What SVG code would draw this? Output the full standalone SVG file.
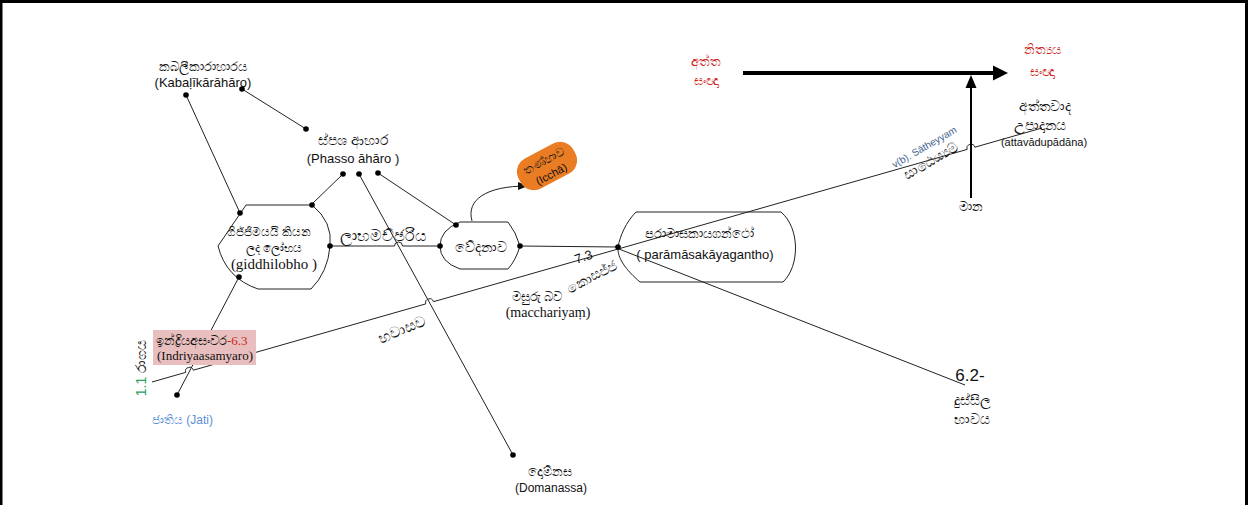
<svg xmlns="http://www.w3.org/2000/svg" width="1248" height="505" viewBox="0 0 1248 505">
<defs>
<style>
.ln{fill:none;stroke:#222;stroke-width:1}
.shape{fill:none;stroke:#222;stroke-width:1}
.dot{fill:#000}
.si{font-family:"Noto Sans","DejaVu Sans",sans-serif;fill:#111}
.sa{font-family:"Liberation Sans",Arial,sans-serif;fill:#111}
.se{font-family:"Liberation Serif","Times New Roman",serif;fill:#111}
.red{fill:#cc1f1a}
.mid{text-anchor:middle}
</style>
<marker id="ahS" markerUnits="userSpaceOnUse" markerWidth="10" markerHeight="10" viewBox="0 0 10 10" refX="9" refY="5" orient="auto">
<path d="M0 1 L10 5 L0 9 Z" fill="#111"/>
</marker>
</defs>
<rect x="0" y="0" width="1248" height="505" fill="#fff"/>
<path d="M1 505 V1.5 H1246.5 V505" fill="none" stroke="#000" stroke-width="3"/>

<g id="connectors">
<path class="ln" d="M186 95 L240 213"/>
<path class="ln" d="M242 89 L306 129"/>
<path class="ln" d="M343 174 L312 204"/>
<path class="ln" d="M359 174 L513 455"/>
<path class="ln" d="M378 173 L456 225"/>
<path class="ln" d="M330 246 H394.5 A4 4 0 0 1 402.5 246 H440"/>
<path class="ln" d="M520 246 L618 247"/>
<path class="ln" d="M152 382 L185.65 372.4 A4 4 0 0 1 193.35 370.2 L425.75 303.9 A4 4 0 0 1 433.45 301.7 L967.15 149.4 A4 4 0 0 1 974.85 147.2 L1042 128"/>
<path class="ln" d="M619 249 L965 385"/>
<path class="ln" d="M239 277 L177 395"/>
<path class="ln" d="M472 221 C466 200 486 186 527 186" marker-end="url(#ahS)"/>
<line x1="743" y1="73" x2="996" y2="73" stroke="#000" stroke-width="4"/>
<path d="M993 65.5 L1008 73 L993 80.5 Z" fill="#000"/>
<line x1="971" y1="198" x2="971" y2="86" stroke="#000" stroke-width="2"/>
<path d="M965.5 88 L971 75 L976.5 88 Z" fill="#000"/>
</g>

<g id="n-giddhi">
<path class="shape" d="M246 205 H312 Q333 222 330 246 Q328 272 311 289 H258 Q226 278 218 246 L246 205 Z"/>
<text class="si mid" x="269" y="236" font-size="11.5">ගිජ්ජිමයයි කියන</text>
<text class="si mid" x="274" y="252" font-size="12">ලද ලෝභය</text>
<text class="se mid" x="274" y="269" font-size="15">(giddhilobho )</text>
</g>

<g id="n-vedana">
<path class="shape" d="M460 222 H508 Q516 232 520 246 Q516 260 508 269 H460 Q440 262 440 246 Q440 230 460 222 Z"/>
<text class="si mid" x="481" y="252" font-size="14">වේදනාව</text>
</g>

<g id="n-paramasa">
<path class="shape" d="M636 212 H781 C800 228 800 266 783 282 H640 C626 270 617 258 618 247 C620 236 626 222 636 212 Z"/>
<text class="si mid" x="699" y="238" font-size="13">පරාමාසකායගන්ථෝ</text>
<text class="sa mid" x="705" y="259" font-size="13">( parāmāsakāyagantho)</text>
</g>

<g id="n-tanha" transform="translate(547 166) rotate(-28)">
<rect x="-31" y="-17" width="62" height="34" rx="15" fill="#ea7d24"/>
<text class="si mid" x="0" y="-2" font-size="12">තණ්හාව</text>
<text class="sa mid" x="0" y="13" font-size="11">(Icchā)</text>
</g>

<g id="n-kabali">
<text class="si mid" x="203" y="71" font-size="13">කබලීකාරාහාරය</text>
<text class="sa mid" x="203" y="87" font-size="13">(Kabaḷīkārāhāro)</text>
</g>

<g id="n-phasso">
<text class="si mid" x="353" y="145" font-size="14">ස්පශ ආහාර</text>
<text class="sa mid" x="353" y="163" font-size="13">(Phasso āhāro )</text>
</g>

<g id="n-labha">
<text class="si mid" x="383" y="241" font-size="16">ලාභමච්ඡරිය</text>
</g>

<g id="n-indriya">
<rect x="153" y="330" width="103" height="35" fill="#e8bfbe"/>
<text class="si" x="156" y="345" font-size="13">ඉන්ද්‍රියඅසංවර<tspan class="se red">-6.3</tspan></text>
<text class="se" x="157" y="360" font-size="13">(Indriyaasamyaro)</text>
</g>

<g id="n-raga">
<text class="sa mid" transform="translate(146 368) rotate(-90)" font-size="14"><tspan fill="#2aa05a">1.1 </tspan><tspan class="si">රාගය</tspan></text>
</g>

<g id="n-jati">
<text class="sa" x="152" y="424" font-size="12" style="fill:#5b8ed6">ජාතිය (Jati)</text>
</g>

<g id="n-bhavasava">
<text class="si mid" transform="translate(404 334) rotate(-23)" font-size="15">භවාසව</text>
</g>

<g id="n-macchariyam">
<text class="si mid" x="537" y="301" font-size="13">මසුරු බව</text>
<text class="se mid" x="548" y="317" font-size="14">(macchariyaṃ)</text>
</g>

<g id="n-kosajja">
<text class="sa mid" transform="translate(585 261) rotate(-20)" font-size="13">7.3</text>
<text class="si mid" transform="translate(594 281) rotate(-28)" font-size="14">කොසජ්ජ</text>
</g>

<g id="n-domanassa">
<circle class="dot" cx="513" cy="455" r="2.8"/>
<text class="si mid" x="550" y="476" font-size="13">දොම්නස</text>
<text class="sa mid" x="551" y="492" font-size="12">(Domanassa)</text>
</g>

<g id="n-dussila">
<text class="sa mid" x="970" y="381" font-size="17">6.2-</text>
<text class="si mid" x="972" y="405" font-size="14">දුස්සිල</text>
<text class="si mid" x="972" y="424" font-size="14">භාවය</text>
</g>

<g id="n-atta">
<text class="si mid red" x="706" y="66" font-size="13">අත්ත</text>
<text class="si mid red" x="706" y="85" font-size="13">සංඥා</text>
</g>

<g id="n-nicca">
<text class="si mid red" x="1042" y="54" font-size="13">නිත්‍යය</text>
<text class="si mid red" x="1042" y="76" font-size="13">සංඥා</text>
</g>

<g id="n-attavada">
<text class="si mid" x="1045" y="111" font-size="14">අත්තවාද</text>
<text class="si mid" x="1040" y="130" font-size="14">උපාදානය</text>
<text class="sa mid" x="1044" y="146" font-size="11">(attavādupādāna)</text>
</g>

<g id="n-satheyya">
<text class="sa mid" transform="translate(926 150) rotate(-30)" font-size="10" style="fill:#44638f">v(b). Sātheyyam</text>
<text class="si mid" transform="translate(933 165) rotate(-30)" font-size="14">සාඨෙය්‍යම්</text>
</g>

<g id="n-mana">
<text class="si mid" x="971" y="211" font-size="13">මාන</text>
</g>

<g id="dots">
<circle class="dot" cx="186" cy="95" r="2.8"/>
<circle class="dot" cx="242" cy="89" r="2.8"/>
<circle class="dot" cx="306" cy="129" r="2.8"/>
<circle class="dot" cx="343" cy="174" r="2.8"/>
<circle class="dot" cx="359" cy="174" r="2.8"/>
<circle class="dot" cx="378" cy="173" r="2.8"/>
<circle class="dot" cx="240" cy="213" r="2.8"/>
<circle class="dot" cx="312" cy="205" r="2.8"/>
<circle class="dot" cx="330" cy="246" r="2.8"/>
<circle class="dot" cx="239" cy="277" r="2.8"/>
<circle class="dot" cx="456" cy="225" r="2.8"/>
<circle class="dot" cx="440" cy="246" r="2.8"/>
<circle class="dot" cx="520" cy="246" r="2.8"/>
<circle class="dot" cx="618" cy="247" r="2.8"/>
<circle class="dot" cx="177" cy="395" r="2.8"/>
</g>
</svg>
